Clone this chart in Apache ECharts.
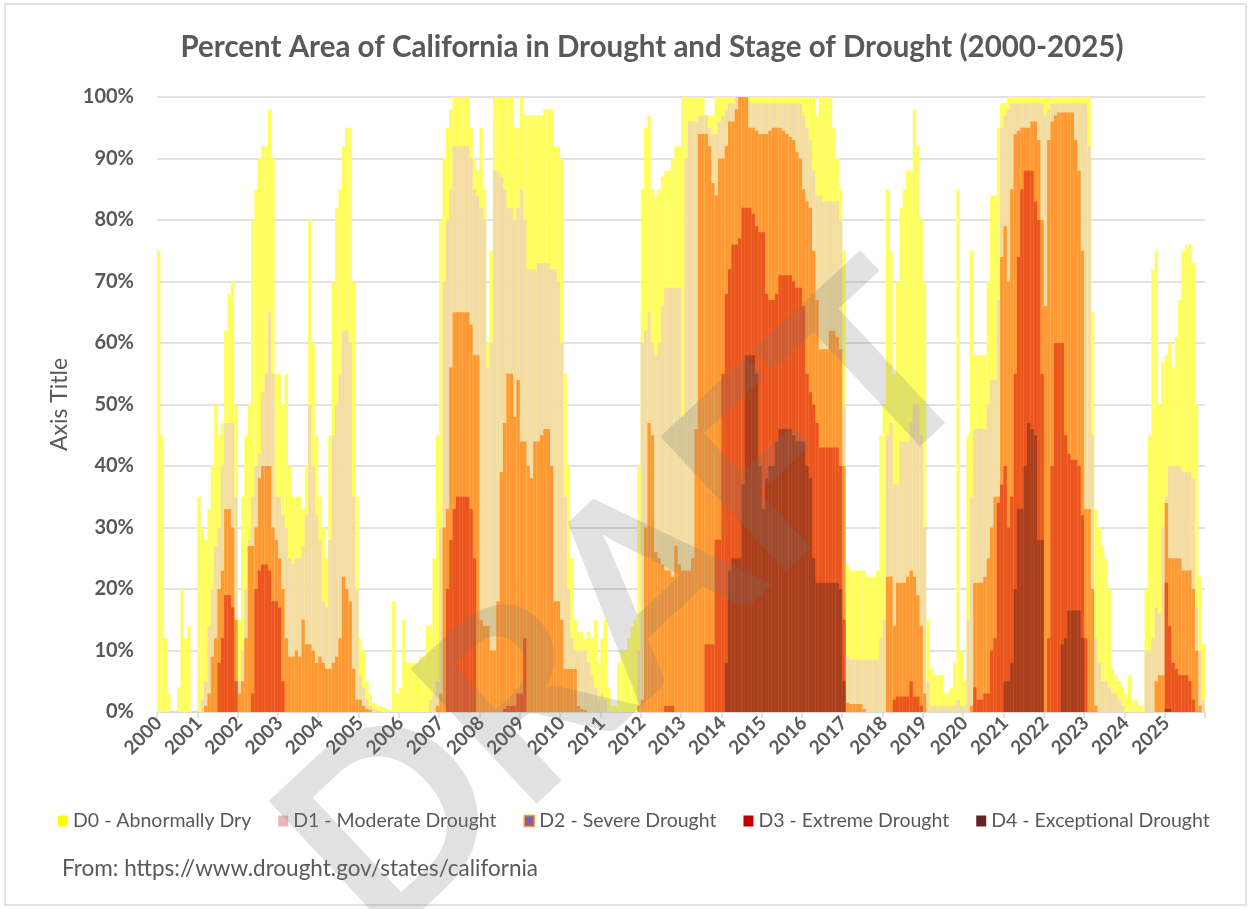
<!DOCTYPE html>
<html>
<head>
<meta charset="utf-8">
<script src="https://cdn.jsdelivr.net/npm/echarts@6/dist/echarts.min.js"></script>
<style>
html,body{margin:0;padding:0;background:#fff;}
#chart{width:1252px;height:909px;}
</style>
</head>
<body>
<div id="chart"></div>
<script>
// Tick labels (years) and month keys
const years = [2000,2001,2002,2003,2004,2005,2006,2007,2008,2009,2010,2011,2012,2013,2014,2015,2016,2017,2018,2019,2020,2021,2022,2023,2024,2025];
const months = ['01','02','03','04','05','06','07','08','09','10','11','12'];

// Monthly percent area, one line per year
const d0 = [
/*2000*/ 75,45,12,3,0,0,4,20,12,14,0,0,
/*2001*/ 35,30,28,33,40,50,45,47,62,68,70,50,
/*2002*/ 15,35,45,50,80,85,90,92,92,98,90,55,
/*2003*/ 55,50,55,40,35,35,35,33,40,80,60,45,
/*2004*/ 35,30,25,45,70,82,85,92,95,95,70,35,
/*2005*/ 12,10,5,3,1.5,1,1,0.8,0.5,0.3,18,3,
/*2006*/ 4,15,8,8,8,8,9,9,14,14,25,45,
/*2007*/ 80,90,95,98,100,100,100,100,100,95,90,88,
/*2008*/ 95,85,60,75,100,100,100,100,100,100,95,95,
/*2009*/ 100,97,97,97,97,97,97,98,98,98,92,92,
/*2010*/ 90,55,40,25,15,13,13,12,13,12,15,8,
/*2011*/ 12,15,4,1,1,8,10,10,12,14,15,40,
/*2012*/ 85,95,97,85,84,85,87,88,88,90,92,92,
/*2013*/ 100,100,100,100,100,100,100,97,97,97,100,100,
/*2014*/ 100,100,100,100,100,100,100,100,100,100,100,100,
/*2015*/ 100,100,100,100,100,100,100,100,100,100,100,100,
/*2016*/ 100,100,100,100,97,100,100,100,100,95,90,85,
/*2017*/ 75,24,23,23,23,23,23,22,22,22,23,45,
/*2018*/ 50,85,75,55,70,82,85,88,88,98,92,80,
/*2019*/ 70,15,7,6,6,6,3,3,4,8,85,10,
/*2020*/ 5,45,75,58,58,58,58,70,84,84,95,99,
/*2021*/ 99,100,100,100,100,100,100,100,100,100,100,100,
/*2022*/ 100,100,100,100,100,100,100,100,100,100,100,100,
/*2023*/ 100,100,65,33,30,27,25,20,7,6,5,4,
/*2024*/ 3,6,2,2,1,1,20,45,72,75,50,57,
/*2025*/ 58,60,56,61,67,75,76,76,73,50,22,11
];
const d1 = [
/*2000*/ 0,0,0,0,0,0,0,0,0,0,0,0,
/*2001*/ 0,2,5,14,20,27,30,40,47,47,47,35,
/*2002*/ 5,10,20,28,35,40,42,52,55,65,55,35,
/*2003*/ 35,32,30,25,24,25,25,27,32,50,40,32,
/*2004*/ 28,18,17,28,45,50,55,62,62,60,35,20,
/*2005*/ 6,4,2,1,0.5,0.3,0.2,0,0,0,0,0,
/*2006*/ 0,0,0,0,0,0,0,0,0,2,3,5,
/*2007*/ 30,70,80,85,92,92,92,92,92,90,85,84,
/*2008*/ 82,80,56,60,88,88,87,85,82,82,80,82,
/*2009*/ 85,80,72,72,72,73,73,73,73,72,72,70,
/*2010*/ 60,35,20,12,10,10,10,10,8,6,4,2,
/*2011*/ 3,2,0,0,0,0,0,0,0,0,0,10,
/*2012*/ 60,62,65,60,58,60,66,69,69,69,69,69,
/*2013*/ 48,90,96,96,96,97,97,97,95,94,94,96,
/*2014*/ 97,98,99,99,100,100,100,100,99,99,99,99,
/*2015*/ 99,99,99,99,99,99,99,99,99,99,99,99,
/*2016*/ 97,95,93,88,84,84,83,83,83,83,83,80,
/*2017*/ 50,9,8.5,8.5,8.5,8.5,8.5,8.5,8.5,8.5,8.5,12,
/*2018*/ 15,45,47,37,37,44,44,44,47,50,50,45,
/*2019*/ 30,5,1,1,1,1,1,1,1,1,2,1,
/*2020*/ 1,15,35,46,46,46,46,50,54,54,67,95,
/*2021*/ 97,98,99,99,99,99,99,99,99,99,99,99,
/*2022*/ 97,98,99,99,99,99,99,99,99,99,99,99,
/*2023*/ 99,92,45,12,8,5,5,4,3,3,2,1,
/*2024*/ 0,0,0,0,0,0,10,10,12,17,16,30,
/*2025*/ 35,40,40,40,40,39,39,39,38,17,10,2
];
const d2 = [
/*2000*/ 0,0,0,0,0,0,0,0,0,0,0,0,
/*2001*/ 0,0,1,3,9,12,20,23,33,33,30,15,
/*2002*/ 3,5,12,27,27,30,38,40,40,40,30,28,
/*2003*/ 25,20,12,9,9,10,9,15,11,11,10,8,
/*2004*/ 9,8,7,7,8,9,12,22,20,18,7,2,
/*2005*/ 2,1,0.5,0.3,0,0,0,0,0,0,0,0,
/*2006*/ 0,0,0,0,0,0,0,0,0,0,0,1,
/*2007*/ 3,30,33,56,65,65,65,65,65,63,58,58,
/*2008*/ 15,14,14,10,10,18,39,47,55,55,48,54,
/*2009*/ 44,44,40,38,44,44,45,46,46,40,18,18,
/*2010*/ 15,7,7,7,7,1,0.5,0.3,0,0,0,0,
/*2011*/ 0,0,0,0,0,0,0,0,0,0,0,1,
/*2012*/ 2,30,47,45,26,25,24,23,23,22,27,24,
/*2013*/ 23,23,23,25,46,94,94,94,92,86,84,90,
/*2014*/ 90,92,96,96,98,100,100,100,95,95,94.5,94,
/*2015*/ 94,94,94.5,95,95,95,94.5,94,93.5,93,91,90,
/*2016*/ 85,83,82,75,67,59,59,59,62,62,61,59,
/*2017*/ 40,1.5,1.3,1.3,1.3,1.3,0.5,0,0,0,0,0,
/*2018*/ 0,22,22,14,21,21,21,22,23,22,19,14,
/*2019*/ 3,0,0,0,0,0,0,0,0,0,0,0,
/*2020*/ 0,0,1,21,21,21,22,25,30,35,35,74,
/*2021*/ 79,70,85,94,94.5,95,95,95,96,96,93,80,
/*2022*/ 66,93,96,97,97.5,97.5,97.5,97.5,97.5,93,88,75,
/*2023*/ 33,33,20,1,0,0,0,0,0,0,0,0,
/*2024*/ 0,0,0,0,0,0,0,0,0,5,6,6,
/*2025*/ 34,25,25,25,25,23,23,23,20,10,1,0
];
const d3 = [
/*2000*/ 0,0,0,0,0,0,0,0,0,0,0,0,
/*2001*/ 0,0,0,0,0,0,8,12,19,19,17,5,
/*2002*/ 0,0,0,0,3,20,23,24,24,23,18,18,
/*2003*/ 17,5,0,0,0,0,0,0,0,0,0,0,
/*2004*/ 0,0,0,0,0,0,0,0,0,0,0,0,
/*2005*/ 0,0,0,0,0,0,0,0,0,0,0,0,
/*2006*/ 0,0,0,0,0,0,0,0,0,0,0,0,
/*2007*/ 0,0,20,28,33,35,35,35,35,33,25,0,
/*2008*/ 0,0,0,0,0,0,0,0.5,1,1,1,3,
/*2009*/ 3,12,0,0,0,0,0,0,0,0,0,0,
/*2010*/ 0,0,0,0,0,0,0,0,0,0,0,0,
/*2011*/ 0,0,0,0,0,0,0,0,0,0,0,0,
/*2012*/ 0,0,0,0,0,0,0,1,1,1,0,0,
/*2013*/ 0,0,0,0,0,0,0,11,11,11,28,28,
/*2014*/ 55,68,72,76,76,77,82,82,82,81,79,78,
/*2015*/ 78,68,67,67,68,71,71,71,71,70,69,69,
/*2016*/ 66,55,52,50,47,43,43,43,43,43,43,40,
/*2017*/ 15,0,0,0,0,0,0,0,0,0,0,0,
/*2018*/ 0,0,0,2,2.5,2.5,2.5,2.5,5,2.5,2.5,1,
/*2019*/ 0,0,0,0,0,0,0,0,0,0,0,0,
/*2020*/ 0,0,0,4,2,2,3,3,10,12,34,37,
/*2021*/ 40,30,35,55,74,85,88,88,88,83,80,55,
/*2022*/ 0,12,40,60,60,60,45,42,41,41,40,32,
/*2023*/ 12,0,0,0,0,0,0,0,0,0,0,0,
/*2024*/ 0,0,0,0,0,0,0,0,0,0,0,0,
/*2025*/ 21,14,8,7,6,6,6,5,2,0,0,0
];
const d4 = [
/*2000*/ 0,0,0,0,0,0,0,0,0,0,0,0,
/*2001*/ 0,0,0,0,0,0,0,0,0,0,0,0,
/*2002*/ 0,0,0,0,0,0,0,0,0,0,0,0,
/*2003*/ 0,0,0,0,0,0,0,0,0,0,0,0,
/*2004*/ 0,0,0,0,0,0,0,0,0,0,0,0,
/*2005*/ 0,0,0,0,0,0,0,0,0,0,0,0,
/*2006*/ 0,0,0,0,0,0,0,0,0,0,0,0,
/*2007*/ 0,0,0,0,0,0,0,0,0,0,0,0,
/*2008*/ 0,0,0,0,0,0,0,0,0,0,0,0,
/*2009*/ 0,0,0,0,0,0,0,0,0,0,0,0,
/*2010*/ 0,0,0,0,0,0,0,0,0,0,0,0,
/*2011*/ 0,0,0,0,0,0,0,0,0,0,0,0,
/*2012*/ 0,0,0,0,0,0,0,0,0,0,0,0,
/*2013*/ 0,0,0,0,0,0,0,0,0,0,0,0,
/*2014*/ 0,8,23,25,25,25,37,58,58,58,55,40,
/*2015*/ 33,38,40,40,44,46,46,46,46,45,44,44,
/*2016*/ 44,40,38,25,21,21,21,21,21,21,21,20,
/*2017*/ 5,0,0,0,0,0,0,0,0,0,0,0,
/*2018*/ 0,0,0,0,0,0,0,0,0,0,0,0,
/*2019*/ 0,0,0,0,0,0,0,0,0,0,0,0,
/*2020*/ 0,0,0,0,0,0,0,0,0,0,0,0,
/*2021*/ 5,5,8,20,33,33,40,47,46,45,28,28,
/*2022*/ 0,0,0,0,0,11,12,16.5,16.5,16.5,16.5,12,
/*2023*/ 0,0,0,0,0,0,0,0,0,0,0,0,
/*2024*/ 0,0,0,0,0,0,0,0,0,0,0,0,
/*2025*/ 0.5,0.5,0,0,0,0,0,0,0,0,0,0
];

const seriesNames = ['D0 - Abnormally Dry','D1 - Moderate Drought','D2 - Severe Drought','D3 - Extreme Drought','D4 - Exceptional Drought'];

const categories = [];
years.forEach(y => months.forEach(m => categories.push(y + '-' + m)));

const chart = echarts.init(document.getElementById('chart'), null, {renderer:'canvas'});
const FONT = 'Lato';
const TXT = '#595959';

const fills = ['#FFFF5C','#F3DCA5','#FF9933','#EA5520','#A8401F'];
const legendStyles = [
  {color:'#FFFF00'},
  {color:'#E6B8B7'},
  {color:'#7F60A0', borderColor:'#FF9933', borderWidth:1.5},
  {color:'#C00000'},
  {color:'#632523'}
];
const allData = [d0,d1,d2,d3,d4];

const option = {
  animation:false,
  backgroundColor:'#ffffff',
  title:{
    text:'Percent Area of California in Drought and Stage of Drought (2000-2025)',
    left:647, top:27, textAlign:'center',
    textStyle:{fontFamily:FONT, fontWeight:'bold', fontSize:29.5, color:TXT}
  },
  legend:{
    top:806, left:53, width:1195, itemWidth:10, itemHeight:11, itemGap:27,
    textStyle:{fontFamily:FONT, fontSize:19.5, color:TXT},
    data: seriesNames.map((n,i)=>({name:n, icon:'rect', itemStyle:legendStyles[i]}))
  },
  grid:{left:157, right:47, top:97, bottom:197},
  xAxis:{
    type:'category', data:categories, boundaryGap:true,
    axisLine:{lineStyle:{color:'#D9D9D9', width:1.5}},
    axisTick:{show:true, interval:(i)=>i%12===0, length:6, lineStyle:{color:'#D9D9D9', width:1.5}},
    axisLabel:{interval:(i)=>i%12===0, formatter:(v)=>v.slice(0,4), rotate:45,
      fontFamily:FONT, fontWeight:'bold', fontSize:19, color:TXT, margin:8}
  },
  yAxis:{
    type:'value', min:0, max:100, interval:10,
    name:'Axis Title', nameLocation:'middle', nameGap:86,
    nameTextStyle:{fontFamily:FONT, fontSize:23, color:TXT},
    axisLine:{show:false}, axisTick:{show:false},
    axisLabel:{formatter:'{value}%', fontFamily:FONT, fontWeight:'bold', fontSize:20, color:TXT, margin:23},
    splitLine:{lineStyle:{color:'#D9D9D9', width:1.5}}
  },
  series: seriesNames.map((n,i)=>({
    name:n, type:'bar', data:allData[i],
    barGap:'-100%', barCategoryGap:'0%',
    itemStyle:{color:fills[i]},
    emphasis:{disabled:true}
  })),
  graphic:[
    {type:'rect', z:-10, silent:true, shape:{x:5, y:4, width:1241, height:901},
     style:{fill:'rgba(0,0,0,0)', stroke:'#D9D9D9', lineWidth:1.5}},
    {type:'text', left:62, top:857, silent:true,
     style:{text:'From: https://www.drought.gov/states/california', font:'22.5px Lato', fill:TXT}},
    {type:'text', x:628, y:606, rotation:0.75, z:100, silent:true,
     style:{text:'DRAFT', font:'bold 255px Lato', fill:'rgba(120,120,120,0.22)',
       textAlign:'center', textVerticalAlign:'middle', align:'center', verticalAlign:'middle'}}
  ]
};
chart.setOption(option);
</script>
</body>
</html>
